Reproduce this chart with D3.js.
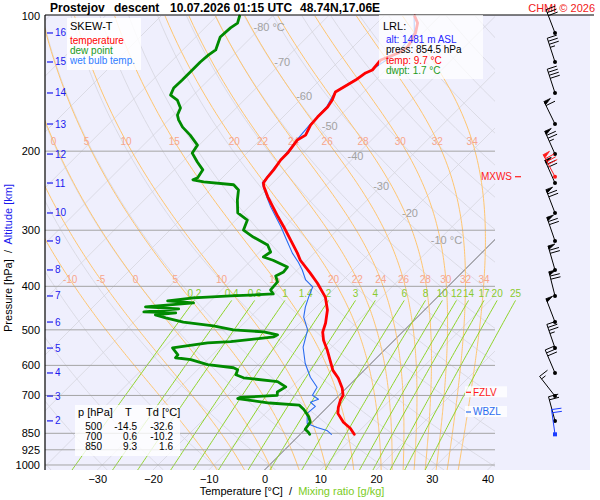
<!DOCTYPE html>
<html>
<head>
<meta charset="utf-8">
<title>Skew-T Prostejov</title>
<script src="https://cdn.jsdelivr.net/npm/d3@7"></script>
<style>
  html, body { margin: 0; padding: 0; background: #ffffff; }
  svg { display: block; font-family: "Liberation Sans", Arial, Helvetica, sans-serif; }
</style>
</head>
<body>
<svg id="skewt" width="600" height="500"></svg>
<script>
// ---- sounding ----
const tempP = [100, 103.7, 109.1, 117.2, 120.9, 125.3, 131.9, 133.9, 138.9, 147.6, 153.9, 159.4, 167.9, 175.0, 184.2, 189.0, 202.0, 209.3, 220.1, 228.1, 235.3, 240.1, 252.8, 266.1, 280.0, 294.6, 315.3, 337.4, 349.9, 373.9, 393.7, 412.1, 422.7, 451.8, 482.9, 505.8, 527.2, 555.3, 584.7, 615.5, 641.1, 674.9, 699.5, 717.6, 744.0, 767.4, 803.4, 828.3, 854.5]
const tempT = [-54.5, -52.7, -51.3, -50.2, -50.8, -52.7, -52.4, -53.1, -53.6, -55.1, -54.2, -53.8, -53.8, -53.6, -52.7, -53.3, -52.7, -52.7, -52.2, -52.0, -51.7, -50.9, -48.4, -45.7, -43.0, -40.2, -36.6, -33.0, -31.2, -27.1, -24.0, -21.5, -20.1, -17.4, -15.4, -14.3, -12.7, -10.2, -7.9, -5.6, -3.2, -0.7, 0.7, 1.1, 2.0, 3.0, 5.6, 7.9, 9.7]

const dewP = [100, 103.7, 106.3, 111.4, 119.0, 122.2, 126.6, 131.9, 138.9, 144.7, 150.0, 153.9, 160.3, 166.1, 170.4, 176.8, 184.2, 193.9, 202.0, 211.4, 220.1, 229.3, 231.6, 234.1, 237.6, 244.0, 256.9, 274.6, 284.8, 299.8, 310.7, 323.6, 335.4, 344.2, 349.9, 362.3, 371.6, 379.3, 391.1, 407.5, 416.0, 420.3, 424.6, 431.1, 435.5, 444.5, 449.1, 456.1, 458.5, 463.1, 470.3, 480.4, 490.2, 500.3, 505.3, 513.0, 518.3, 531.2, 534.5, 548.6, 568.2, 577.0, 582.7, 597.8, 607.3, 613.5, 629.6, 639.4, 652.2, 669.9, 687.6, 699.5, 707.4, 711.5, 727.7, 735.7, 752.1, 781.1, 802.2, 832.6, 845.7, 854.5]
const dewT = [-85.9, -85.0, -85.4, -85.6, -84.1, -84.5, -84.7, -84.7, -84.7, -84.8, -84.1, -82.0, -80.0, -79.3, -78.2, -76.2, -73.4, -70.3, -69.8, -67.3, -64.9, -64.4, -64.9, -62.6, -56.7, -54.9, -53.3, -50.9, -47.9, -46.8, -43.8, -39.8, -38.0, -38.4, -36.1, -32.3, -32.1, -32.8, -31.4, -31.2, -30.0, -37.3, -43.6, -47.7, -42.7, -50.6, -44.3, -50.0, -44.1, -47.4, -45.0, -41.1, -35.0, -30.7, -24.9, -21.9, -22.2, -29.1, -33.0, -38.4, -36.2, -36.1, -33.0, -29.1, -23.9, -22.8, -22.2, -20.3, -13.5, -11.1, -11.7, -11.1, -17.4, -17.6, -11.1, -5.4, -3.8, -1.6, -0.4, 0.0, 1.1, 1.7]

const wetP = [100, 109.1, 120.9, 131.9, 147.6, 159.4, 175.0, 189.0, 202.0, 220.1, 235.3, 240.1, 252.8, 266.1, 280.0, 294.6, 315.3, 337.4, 353.5, 367.9, 387.2, 401.3, 422.7, 444.9, 468.3, 500.1, 546.6, 594.2, 637.8, 671.4, 699.5, 714.0, 725.0, 740.1, 767.4, 808.0, 824.8, 837.6, 854.5]
const wetT = [-54.6, -51.5, -51.0, -52.6, -55.2, -54.0, -53.8, -53.4, -52.9, -52.4, -51.9, -51.0, -48.6, -46.1, -43.4, -40.7, -37.3, -33.9, -31.2, -29.1, -26.7, -24.2, -23.1, -21.9, -20.4, -17.4, -15.1, -11.8, -8.4, -5.4, -4.8, -3.0, -3.9, -2.3, -2.5, -0.7, 1.8, 4.1, 5.6]

// altitude marks (km) and their pressure
const altKm = [16, 15, 14, 13, 12, 11, 10, 9, 8, 7, 6, 5, 4, 3, 2]
const altP = [109.1, 126.6, 148.4, 174.0, 203.0, 235.5, 274.6, 317.0, 367.8, 420.3, 480.4, 549.0, 623.8, 702.3, 797.6]

// wind at each altitude mark
const windDir = [339, 342, 342, 334, 336, 336, 339, 341, 344, 346, 339, 341, 337, 322, 345]
const windSpd = [30, 35, 40, 60, 75, 70, 70, 70, 70, 70, 50, 35, 30, 15, 20]

// special levels
const mxwsP = 228
const mxwsDir = 332
const mxwsSpd = 80
const lrlAlt = 1481
const lrlP = 854.5
const lrlT = 9.7
const lrlTd = 1.7
const lrlDir = 352
const lrlSpd = 20
const fzlvP = 688.8
const wbzlP = 762

// summary table
const tableP = [500, 700, 850]
const tableT = [-14.5, 0.6, 9.3]
const tableTd = [-32.6, -10.2, 1.6]

// axes and background line families
const pressureTicks = [100, 200, 300, 400, 500, 600, 700, 850, 925, 1000]
const tempTicks = [-30, -20, -10, 0, 10, 20, 30, 40]
const isotherms = [-120, -110, -100, -90, -80, -70, -60, -50, -40, -30, -20, -10, 0, 10, 20, 30, 40]
const isoLabelT = [-80, -70, -60, -50, -40, -30, -20, -10]
const isoLabelP = [105.8, 126.6, 150.6, 175.7, 205.0, 239.2, 274.6, 315.3]
const isoLabelText = ['-80 °C', '-70', '-60', '-50', '-40', '-30', '-20', '-10 °C']
const dryThetas = [-40, -30, -20, -10, 0, 10, 20, 30, 40, 50, 60, 70, 80, 90, 100, 110, 120, 130, 140, 150, 160, 170, 180]
const moistThetaW = [-10, -5, 0, 5, 10, 15, 20, 22, 24, 26, 28, 30, 32, 34]
const moistLabelP = [190, 387]
const mixRatios = [0.2, 0.4, 0.6, 1, 1.4, 2, 3, 4, 6, 8, 10, 12, 14, 17, 20, 25]
const mixTopP = 430

// ---- layout ----
const plotLeft = 45
const plotRight = 495
const panelRight = 590
const plotTop = 15
const plotBottom = 470
const skew = 1.0
const barbX = 555

const RD = 287.04
const CP = 1005.7
const LV = 2.501e6
const EPS = 0.622

const yScale = d3.scaleLog().domain([100, 1026]).range([16, plotBottom])
const tScale = d3.scaleLinear().domain([-40, 40]).range([41.5, 487.5])

/**
 * Screen x of a temperature at a pressure on the skewed grid.
 */
function skewX (t, p) {
  return tScale(t) + (plotBottom - yScale(p)) * skew
}

const skewLine = d3.line()
  .x(d => skewX(d.t, d.p))
  .y(d => yScale(d.p))

function satVapour (t) {
  return 6.112 * Math.exp(17.67 * t / (t + 243.5))
}

function moistLapse (p, t) {
  const T = t + 273.15
  const es = satVapour(t)
  const rs = EPS * es / (p - es)
  return (RD * T + LV * rs) / (CP + LV * LV * rs * EPS / (RD * T * T)) / p
}

/**
 * Pseudo-adiabat through thetaW at 1000 hPa, as {p, t} points.
 */
function moistAdiabat (thetaW) {
  const up = []
  let t = thetaW
  for (let p = 1000; p >= 100; p -= 5) {
    up.push({ p, t })
    const k1 = moistLapse(p, t)
    const k2 = moistLapse(p - 2.5, t - 2.5 * k1)
    t -= 5 * k2
  }
  const down = []
  t = thetaW
  for (let p = 1000; p <= 1030; p += 5) {
    if (p > 1000) down.push({ p, t })
    const k1 = moistLapse(p, t)
    const k2 = moistLapse(p + 2.5, t + 2.5 * k1)
    t += 5 * k2
  }
  return down.reverse().concat(up)
}

function dewFromMix (p, w) {
  const e = w * p / (622 + w)
  const l = Math.log(e / 6.112)
  return 243.5 * l / (17.67 - l)
}

function pointAt (curve, p) {
  // curve sorted by decreasing p
  for (let i = 0; i < curve.length - 1; i++) {
    const a = curve[i]
    const b = curve[i + 1]
    if (a.p >= p && b.p <= p) {
      const f = (a.p - p) / (a.p - b.p)
      return a.t + f * (b.t - a.t)
    }
  }
  return null
}

const pSamples = []
for (let p = 1026; p > 100; p -= 8) pSamples.push(p)
pSamples.push(100)

const svg = d3.select('#skewt')

svg.append('defs').append('clipPath').attr('id', 'plot-clip')
  .append('rect')
  .attr('x', plotLeft).attr('y', plotTop)
  .attr('width', plotRight - plotLeft).attr('height', plotBottom - plotTop)

// background panel
svg.append('rect')
  .attr('x', plotLeft).attr('y', plotTop)
  .attr('width', panelRight - plotLeft).attr('height', plotBottom - plotTop)
  .attr('fill', '#efeffd')

const grid = svg.append('g').attr('clip-path', 'url(#plot-clip)')

// dry adiabats
grid.selectAll('.dry')
  .data(dryThetas)
  .enter()
  .append('path')
  .attr('class', 'dry')
  .attr('d', th => skewLine(pSamples.map(p => ({ p, t: (th + 273.15) * Math.pow(p / 1000, 0.2857) - 273.15 }))))
  .attr('fill', 'none')
  .attr('stroke', '#d6d6de')
  .attr('stroke-width', 0.8)

// isotherms
grid.selectAll('.iso')
  .data(isotherms)
  .enter()
  .append('path')
  .attr('class', 'iso')
  .attr('d', t => skewLine([{ p: 1026, t }, { p: 100, t }]))
  .attr('fill', 'none')
  .attr('stroke', t => t === 0 ? '#6a6a6a' : '#d6d6de')
  .attr('stroke-width', t => t === 0 ? 1 : 0.8)

// moist adiabats
const moistCurves = moistThetaW.map(moistAdiabat)
grid.selectAll('.moist')
  .data(moistCurves)
  .enter()
  .append('path')
  .attr('class', 'moist')
  .attr('d', c => skewLine(c))
  .attr('fill', 'none')
  .attr('stroke', '#ffc670')
  .attr('stroke-width', 1)

// mixing ratio lines (not clipped on the right)
const mixCurves = mixRatios.map(w => pSamples.filter(p => p >= mixTopP).concat([mixTopP]).map(p => ({ p, t: dewFromMix(p, w) })))
svg.append('g').selectAll('path')
  .data(mixCurves)
  .enter()
  .append('path')
  .attr('d', c => skewLine(c))
  .attr('fill', 'none')
  .attr('stroke', '#8fd42a')
  .attr('stroke-width', 1)

// pressure lines
svg.append('g').selectAll('line')
  .data(pressureTicks.filter(p => p > 100))
  .enter()
  .append('line')
  .attr('x1', plotLeft).attr('x2', plotRight)
  .attr('y1', p => yScale(p)).attr('y2', p => yScale(p))
  .attr('stroke', '#a4a4a4')
  .attr('stroke-width', 1)

// isotherm labels
svg.append('g').selectAll('text')
  .data(isoLabelT)
  .enter()
  .append('text')
  .attr('x', (t, i) => skewX(t, isoLabelP[i]) - 8)
  .attr('y', (t, i) => yScale(isoLabelP[i]))
  .attr('dy', '0.35em')
  .attr('font-size', 11)
  .attr('fill', '#a2a2a2')
  .text((t, i) => isoLabelText[i])

// moist adiabat labels
const moistLabels = []
moistLabelP.forEach(p => {
  moistCurves.forEach((c, i) => {
    const t = pointAt(c, p)
    if (t === null) return
    const x = skewX(t, p)
    if (x > plotLeft + 4 && x < plotRight - 4) moistLabels.push({ x, y: yScale(p), text: moistThetaW[i] })
  })
})
svg.append('g').selectAll('text')
  .data(moistLabels)
  .enter()
  .append('text')
  .attr('x', d => d.x)
  .attr('y', d => d.y)
  .attr('dy', '0.35em')
  .attr('text-anchor', 'middle')
  .attr('font-size', 10)
  .attr('fill', '#f7a68c')
  .text(d => d.text)

// mixing ratio labels
svg.append('g').selectAll('text')
  .data(mixRatios)
  .enter()
  .append('text')
  .attr('x', w => skewX(dewFromMix(mixTopP, w), mixTopP))
  .attr('y', yScale(mixTopP) - 3)
  .attr('text-anchor', 'middle')
  .attr('font-size', 10)
  .attr('fill', '#8acb2e')
  .text(w => w)

// ---- profiles ----
const wet = d3.zip(wetP, wetT).map(d => ({ p: d[0], t: d[1] }))
const dew = d3.zip(dewP, dewT).map(d => ({ p: d[0], t: d[1] }))
const temp = d3.zip(tempP, tempT).map(d => ({ p: d[0], t: d[1] }))

const prof = svg.append('g').attr('fill', 'none').attr('stroke-linejoin', 'round').attr('stroke-linecap', 'round')
prof.append('path').attr('d', skewLine(wet)).attr('stroke', '#2a6cf0').attr('stroke-width', 1.1)
prof.append('path').attr('d', skewLine(dew)).attr('stroke', '#008a00').attr('stroke-width', 2.8)
prof.append('path').attr('d', skewLine(temp)).attr('stroke', '#ff0000').attr('stroke-width', 2.8)

// ---- frame ----
svg.append('line')
  .attr('x1', plotLeft).attr('x2', 594).attr('y1', plotTop).attr('y2', plotTop)
  .attr('stroke', '#000').attr('stroke-width', 1.2)
svg.append('line')
  .attr('x1', plotLeft).attr('x2', plotLeft).attr('y1', plotTop).attr('y2', plotBottom)
  .attr('stroke', '#000').attr('stroke-width', 1.2)

// ---- axes ----
svg.append('g')
  .attr('transform', `translate(0,${plotBottom})`)
  .call(d3.axisBottom(tScale).tickValues(tempTicks).tickSize(0).tickPadding(5))
  .call(g => g.select('.domain').remove())
  .attr('font-size', 11)
  .attr('font-family', null)

svg.append('g')
  .attr('transform', `translate(${plotLeft},0)`)
  .call(d3.axisLeft(yScale).tickValues(pressureTicks).tickFormat(d3.format('d')).tickSize(0).tickPadding(5))
  .call(g => g.select('.domain').remove())
  .attr('font-size', 11)
  .attr('font-family', null)

// altitude marks
const alt = svg.append('g').attr('fill', '#1a1aee').attr('stroke', '#1a1aee')
alt.selectAll('line')
  .data(altP)
  .enter()
  .append('line')
  .attr('x1', 47).attr('x2', 53)
  .attr('y1', p => yScale(p)).attr('y2', p => yScale(p))
  .attr('stroke-width', 1.2)
alt.selectAll('text')
  .data(altKm)
  .enter()
  .append('text')
  .attr('x', 55)
  .attr('y', (k, i) => yScale(altP[i]))
  .attr('dy', '0.35em')
  .attr('stroke', 'none')
  .attr('font-size', 10)
  .text(k => k)

// axis titles
const yTitle = svg.append('text')
  .attr('transform', 'translate(12,258) rotate(-90)')
  .attr('text-anchor', 'middle')
  .attr('font-size', 11)
  .style('white-space', 'pre')
yTitle.append('tspan').attr('fill', '#000').text('Pressure [hPa]  /  ')
yTitle.append('tspan').attr('fill', '#1a1aee').text('Altitude [km]')

const xTitle = svg.append('text')
  .attr('x', 292).attr('y', 495)
  .attr('text-anchor', 'middle')
  .attr('font-size', 11)
  .style('white-space', 'pre')
xTitle.append('tspan').attr('fill', '#000').text('Temperature [°C]  /  ')
xTitle.append('tspan').attr('fill', '#7ccc1e').text('Mixing ratio [g/kg]')

// title
const title = svg.append('text').attr('y', 11.5).attr('font-size', 12).attr('font-weight', 'bold').attr('fill', '#000')
title.append('tspan').attr('x', 50).text('Prostejov')
title.append('tspan').attr('x', 114).text('descent')
title.append('tspan').attr('x', 170).text('10.07.2026 01:15 UTC')
title.append('tspan').attr('x', 300).text('48.74N,17.06E')

svg.append('text')
  .attr('x', 595).attr('y', 11.5)
  .attr('text-anchor', 'end')
  .attr('font-size', 11)
  .attr('fill', '#f01818')
  .text('CHMI © 2026')

// ---- boxes ----
const legend = svg.append('g')
legend.append('rect').attr('x', 67).attr('y', 18).attr('width', 74).attr('height', 52)
  .attr('fill', '#fff').attr('fill-opacity', 0.85)
legend.append('text').attr('x', 70).attr('y', 30).attr('font-size', 11).attr('fill', '#000').text('SKEW-T')
legend.append('text').attr('x', 70).attr('y', 44).attr('font-size', 10).attr('fill', '#ff0000').text('temperature')
legend.append('text').attr('x', 70).attr('y', 54).attr('font-size', 10).attr('fill', '#1a9a1a').text('dew point')
legend.append('text').attr('x', 70).attr('y', 64).attr('font-size', 10).attr('fill', '#2f7cff').text('wet bulb temp.')

const lrl = svg.append('g')
lrl.append('rect').attr('x', 379).attr('y', 15).attr('width', 104).attr('height', 64)
  .attr('fill', '#fff').attr('fill-opacity', 0.72)
lrl.append('text').attr('x', 383).attr('y', 30).attr('font-size', 11).attr('fill', '#000').text('LRL:')
lrl.append('text').attr('x', 386).attr('y', 43).attr('font-size', 10).attr('fill', '#2525ff').text(`alt: ${lrlAlt} m ASL`)
lrl.append('text').attr('x', 386).attr('y', 53).attr('font-size', 10).attr('fill', '#000').text(`press: ${lrlP.toFixed(1)} hPa`)
lrl.append('text').attr('x', 386).attr('y', 64).attr('font-size', 10).attr('fill', '#ff0000').text(`temp: ${lrlT.toFixed(1)} °C`)
lrl.append('text').attr('x', 386).attr('y', 74).attr('font-size', 10).attr('fill', '#1a9a1a').text(`dwpt: ${lrlTd.toFixed(1)} °C`)

const table = svg.append('g').attr('fill', '#000')
table.append('rect').attr('x', 75).attr('y', 405).attr('width', 105).attr('height', 51)
  .attr('fill', '#fff').attr('fill-opacity', 0.8)
table.append('text').attr('x', 78).attr('y', 416).attr('font-size', 11).text('p [hPa]')
table.append('text').attr('x', 125).attr('y', 416).attr('font-size', 11).text('T')
table.append('text').attr('x', 146).attr('y', 416).attr('font-size', 11).text('Td [°C]')
tableP.forEach((p, i) => {
  const y = 430 + i * 10
  table.append('text').attr('x', 102).attr('y', y).attr('font-size', 10).attr('text-anchor', 'end').text(p)
  table.append('text').attr('x', 137).attr('y', y).attr('font-size', 10).attr('text-anchor', 'end').text(tableT[i].toFixed(1))
  table.append('text').attr('x', 173).attr('y', y).attr('font-size', 10).attr('text-anchor', 'end').text(tableTd[i].toFixed(1))
})

// level marks
function levelMark (p, label, color) {
  const y = yScale(p)
  const g = svg.append('g')
  g.append('rect').attr('x', 465).attr('y', y - 6).attr('width', 42).attr('height', 11)
    .attr('fill', '#fff').attr('fill-opacity', 0.8)
  g.append('line').attr('x1', 466).attr('x2', 471).attr('y1', y).attr('y2', y)
    .attr('stroke', color).attr('stroke-width', 1.2)
  g.append('text').attr('x', 473).attr('y', y).attr('dy', '0.35em')
    .attr('font-size', 10).attr('fill', color).text(label)
}
levelMark(fzlvP, 'FZLV', '#ff1a1a')
levelMark(wbzlP, 'WBZL', '#2a6cf0')

const mx = svg.append('g')
mx.append('text').attr('x', 512).attr('y', yScale(mxwsP)).attr('dy', '0.35em')
  .attr('text-anchor', 'end').attr('font-size', 10).attr('fill', '#ff1a1a').text('MXWS')
mx.append('line').attr('x1', 515).attr('x2', 521).attr('y1', yScale(mxwsP)).attr('y2', yScale(mxwsP))
  .attr('stroke', '#ff1a1a').attr('stroke-width', 1.2)

// ---- wind barbs ----
/**
 * Draws one wind barb with its foot at (x0, y0).
 */
function drawBarb (g, x0, y0, dir, spd, color, square) {
  const L = 25
  const F = 10
  const gap = 3.2
  const a = dir * Math.PI / 180
  const ux = Math.sin(a)
  const uy = -Math.cos(a)
  const px = -uy
  const py = ux
  const tx = x0 + ux * L
  const ty = y0 + uy * L
  g.append('line').attr('x1', x0).attr('y1', y0).attr('x2', tx).attr('y2', ty)
    .attr('stroke', color).attr('stroke-width', 1)
  let s = spd
  let pos = 0
  while (s >= 50) {
    const ax = tx - ux * pos
    const ay = ty - uy * pos
    const bx = tx - ux * (pos + 3.5)
    const by = ty - uy * (pos + 3.5)
    g.append('path')
      .attr('d', `M${ax},${ay}L${ax + px * F * 0.7},${ay + py * F * 0.7}L${bx},${by}Z`)
      .attr('fill', color).attr('stroke', color).attr('stroke-width', 0.8)
    pos += 4.5
    s -= 50
  }
  while (s >= 10) {
    const ax = tx - ux * pos
    const ay = ty - uy * pos
    g.append('line').attr('x1', ax).attr('y1', ay).attr('x2', ax + px * F).attr('y2', ay + py * F)
      .attr('stroke', color).attr('stroke-width', 1)
    pos += gap
    s -= 10
  }
  if (s >= 5) {
    if (pos === 0) pos = gap
    const ax = tx - ux * pos
    const ay = ty - uy * pos
    g.append('line').attr('x1', ax).attr('y1', ay).attr('x2', ax + px * F / 2).attr('y2', ay + py * F / 2)
      .attr('stroke', color).attr('stroke-width', 1)
  }
  if (square) {
    g.append('rect').attr('x', x0 - 2).attr('y', y0 - 2).attr('width', 4).attr('height', 4).attr('fill', color)
  } else {
    g.append('circle').attr('cx', x0).attr('cy', y0).attr('r', 2).attr('fill', color)
  }
}

const barbs = svg.append('g')
altP.forEach((p, i) => drawBarb(barbs, barbX, yScale(p), windDir[i], windSpd[i], '#000', false))
drawBarb(barbs, barbX, yScale(mxwsP), mxwsDir, mxwsSpd, '#ff1a1a', false)
drawBarb(barbs, barbX, yScale(lrlP), lrlDir, lrlSpd, '#1a3cff', true)
</script>
</body>
</html>
